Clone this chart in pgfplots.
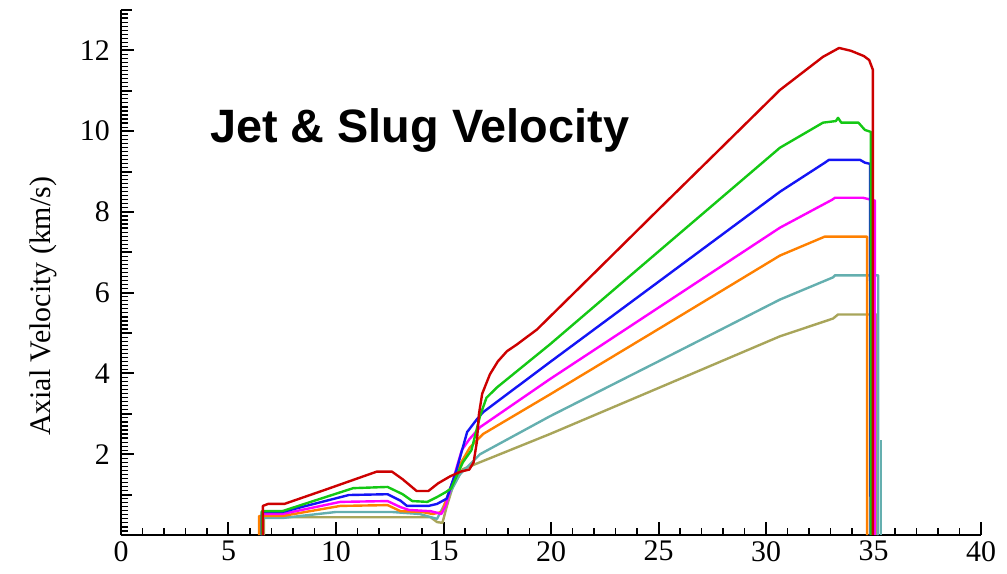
\documentclass[border=0pt]{standalone}
\usepackage{fontspec}
\setmainfont{Liberation Serif}
\newfontfamily\titlefont{Liberation Sans}
\usepackage{pgfplots}
\pgfplotsset{compat=1.18}
\definecolor{cRed}{RGB}{205,0,0}
\definecolor{cGreen}{RGB}{20,200,20}
\definecolor{cBlue}{RGB}{20,20,245}
\definecolor{cMag}{RGB}{255,0,255}
\definecolor{cOrange}{RGB}{255,128,0}
\definecolor{cTeal}{RGB}{100,175,175}
\definecolor{cOlive}{RGB}{168,165,90}
\begin{document}
\begin{tikzpicture}
\begin{axis}[name=ax, scale only axis, width=860bp, height=525bp,
  xmin=0, xmax=40, ymin=0, ymax=13,
  axis lines=left, axis line style={-, line width=2.5bp, black},
  tick align=inside,
  xtick={0,5,...,40}, minor x tick num=4,
  ytick={0,2,...,12}, yticklabels={,2,4,6,8,10,12},
  minor ytick={0,0.1,...,13},
  extra y ticks={1,3,...,13}, extra y tick labels={},
  extra y tick style={major tick length=11bp},
  major tick length=13bp, minor tick length=7bp,
  every major tick/.append style={line width=2bp, black},
  every minor tick/.append style={line width=1.2bp, black},
  tick label style={font=\fontsize{30}{36}\selectfont},
  xticklabel style={inner sep=0pt, yshift=-6bp},
  yticklabel style={inner sep=0pt, xshift=-11bp},
  /pgf/number format/assume math mode=true,
  clip=false,
  every axis plot/.append style={line width=2.4bp, line join=round, no markers},
]
% olive
\addplot[cOlive] coordinates {(6.65,0) (6.65,0.44) (14.4,0.44) (14.7,0.32) (14.95,0.30) (15.16,0.72) (15.44,1.21) (15.77,1.51) (15.9,1.63) (19.95,2.50) (25,3.64) (30.65,4.92) (33.12,5.36) (33.35,5.46) (35.16,5.46) (35.16,0)};
% teal
\addplot[cTeal] coordinates {(6.5,0) (6.5,0.42) (7.5,0.42) (10.0,0.57) (12.6,0.57) (13.9,0.52) (14.35,0.45) (14.7,0.40) (14.98,0.69) (15.4,1.14) (15.77,1.51) (16.23,1.75) (16.7,2.0) (19.95,2.94) (25,4.3) (30.65,5.83) (33.12,6.38) (33.21,6.43) (35.22,6.43) (35.22,0)};
\addplot[cTeal, line width=1.6bp] coordinates {(35.36,2.35) (35.36,0)};
% orange
\addplot[cOrange] coordinates {(6.42,0) (6.42,0.47) (7.5,0.47) (10.2,0.72) (12.4,0.74) (13.0,0.59) (14.0,0.57) (14.5,0.52) (14.93,0.57) (15.3,1.14) (15.77,1.75) (16.23,2.17) (16.84,2.5) (19.95,3.48) (25,5.1) (30.65,6.92) (32.74,7.39) (34.7,7.39) (34.7,0)};
% magenta
\addplot[cMag] coordinates {(6.55,0) (6.55,0.52) (7.5,0.52) (10.2,0.82) (12.4,0.84) (13.0,0.69) (13.4,0.62) (14.4,0.59) (14.7,0.55) (14.9,0.52) (15.1,0.72) (15.6,1.65) (15.85,2.1) (16.2,2.37) (16.7,2.67) (19.95,3.86) (25,5.63) (30.65,7.61) (33.07,8.30) (33.21,8.35) (34.51,8.35) (35.07,8.28) (35.07,0)};
% blue
\addplot[cBlue] coordinates {(6.55,0) (6.55,0.57) (7.5,0.57) (10.6,0.99) (12.4,1.01) (13.0,0.85) (13.3,0.72) (14.3,0.72) (14.7,0.77) (15.15,0.9) (15.6,1.6) (16.1,2.55) (16.56,2.87) (16.84,3.04) (19.95,4.28) (25,6.27) (30.65,8.50) (32.74,9.22) (32.93,9.29) (34.37,9.29) (34.6,9.22) (34.84,9.19) (34.86,0)};
% green
\addplot[cGreen] coordinates {(6.55,0) (6.55,0.59) (7.5,0.59) (9,0.85) (10.8,1.16) (12.4,1.19) (13.1,1.01) (13.55,0.84) (14.25,0.82) (14.7,0.94) (15.1,1.06) (15.35,1.15) (15.9,1.8) (16.3,2.1) (16.7,2.95) (17.0,3.4) (17.5,3.66) (19.95,4.72) (25,7.02) (30.65,9.59) (32.65,10.21) (33.25,10.25) (33.35,10.33) (33.5,10.21) (34.3,10.21) (34.6,10.03) (34.88,9.98) (34.88,0)};
% red
\addplot[cRed] coordinates {(6.6,0) (6.6,0.72) (6.84,0.77) (7.6,0.77) (9.5,1.12) (11.9,1.57) (12.6,1.57) (13.1,1.38) (13.75,1.09) (14.3,1.09) (14.75,1.28) (15.3,1.45) (15.8,1.57) (16.2,1.62) (16.4,1.8) (16.55,2.3) (16.65,3.0) (16.8,3.5) (17.16,3.98) (17.53,4.30) (17.95,4.55) (18.42,4.72) (19.35,5.09) (22,6.48) (25,8.06) (28,9.63) (30.65,11.02) (32.65,11.84) (33.4,12.06) (33.95,11.99) (34.55,11.86) (34.8,11.76) (34.97,11.52) (34.97,0)};
\node[anchor=base west, inner sep=0pt, font=\titlefont\bfseries\fontsize{47}{56}\selectfont] at (axis cs:4.14,9.71) {Jet \& Slug Velocity};
\node[rotate=90, anchor=base, inner sep=0pt, font=\fontsize{30}{36}\selectfont] at (axis cs:-3.30,5.66) {Axial Velocity (km/s)};
\end{axis}
\pgfresetboundingbox
\path ([shift={(-121bp,-39bp)}]ax.south west) rectangle ([shift={(26bp,10bp)}]ax.north east);
\end{tikzpicture}
\end{document}
